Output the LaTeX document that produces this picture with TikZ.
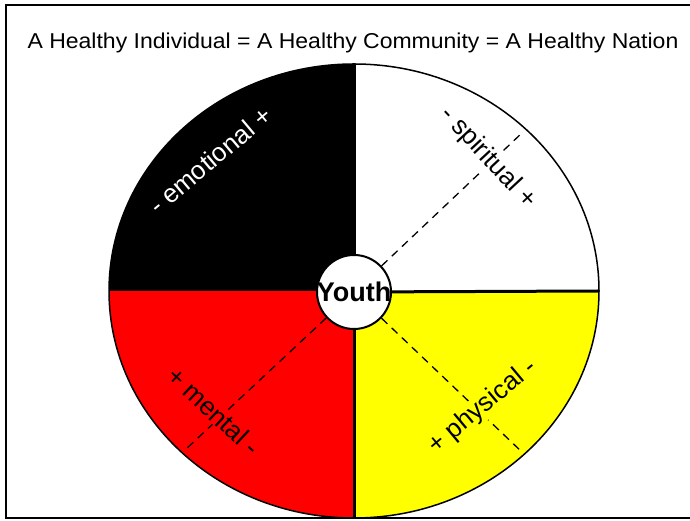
\documentclass[tikz,border=0pt]{standalone}
\usepackage{fontspec}
\setmainfont{Liberation Sans}
\usepackage{tikz}
\definecolor{wheelred}{rgb}{1.0,0.0,0.0}
\definecolor{wheelyellow}{rgb}{1.0,1.0,0.0}

\begin{document}
\begin{tikzpicture}[x=1pt,y=1pt,
  quarter/.style={inner sep=1pt, font=\fontsize{26}{31}\selectfont},
  spoke/.style={dash pattern=on 8pt off 6pt, line width=1.3pt},
  divider/.style={line width=3pt}]
\useasboundingbox (0,0) rectangle (690,521);
\draw [line width=2pt] (6,3) rectangle (694,516);

\node (title) at (353,478) {\fontsize{21.5}{26}\selectfont\scalebox{1.07}[1]{A Healthy Individual = A Healthy Community = A Healthy Nation}};

\coordinate (c) at (354,230);
\fill [black] (c) -- ++(-245,0) arc [start angle=180, end angle=90, x radius=245, y radius=227] -- cycle;
\fill [white] (c) -- ++(245,0) arc [start angle=0, end angle=90, x radius=245, y radius=227] -- cycle;
\fill [wheelred] (c) -- ++(-245,0) arc [start angle=180, end angle=270, x radius=245, y radius=227] -- cycle;
\fill [wheelyellow] (c) -- ++(245,0) arc [start angle=0, end angle=-90, x radius=245, y radius=227] -- cycle;
\draw [line width=1.5pt] (c) ellipse [x radius=245, y radius=227];

\coordinate (top) at (354,457);
\coordinate (bottom) at (354,3);
\coordinate (right) at (599,230);
\coordinate (spirit) at (523,389);
\coordinate (mind) at (185,71);
\coordinate (body) at (523,68);

\node [circle, draw, fill=white, line width=2pt, minimum size=74pt, inner sep=0pt] (youth) at (354,229) {};
\node [font=\fontsize{27}{32}\selectfont\bfseries] (youthtext) at (youth) {Youth};

\draw [divider] (top) -- (youth);
\draw [divider] (youth) -- (bottom);
\draw [divider] (youth) -- (right);

\draw [spoke] (youth) -- (spirit);
\draw [spoke] (youth) -- (mind);
\draw [spoke] (youth) -- (body);

\node [quarter, text=white, rotate=40] (emo) at (210,361) {- emotional +};
\node [quarter, fill=white, rotate=-47] (spi) at (488,363) {- spiritual +};
\node [quarter, fill=wheelred, rotate=-43] (men) at (214,110) {+ mental -};
\node [quarter, fill=wheelyellow, rotate=40] (phy) at (483,114) {+ physical -};
\end{tikzpicture}
\end{document}
